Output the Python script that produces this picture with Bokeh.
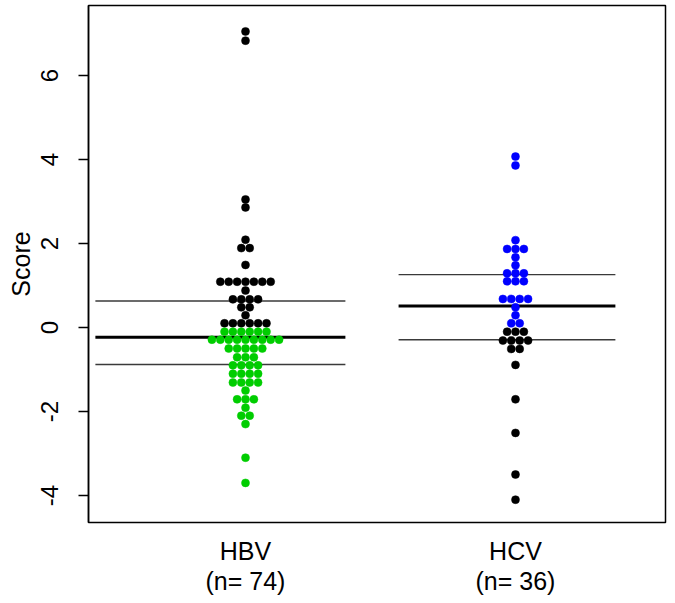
from bokeh.plotting import figure
from bokeh.models import Range1d, FixedTicker, ColumnDataSource
from bokeh.embed import file_html
from bokeh.resources import INLINE

# ---- data ----
groups = ["HBV", "HCV"]
group_n = [74, 36]
hbv_scores = [7.05, 6.83, 3.05, 2.86, 2.09, 1.89, 1.89, 1.49,
              1.09, 1.09, 1.09, 1.09, 1.09, 1.09, 1.09, 0.88,
              0.67, 0.67, 0.67, 0.67, 0.48, 0.48, 0.29,
              0.10, 0.10, 0.10, 0.10, 0.10, 0.10,
              -0.10, -0.10, -0.10, -0.10, -0.10, -0.10,
              -0.29, -0.29, -0.29, -0.29, -0.29, -0.29, -0.29, -0.29, -0.29,
              -0.50, -0.50, -0.50, -0.50, -0.50,
              -0.71, -0.71, -0.71,
              -0.90, -0.90, -0.90, -0.90,
              -1.10, -1.10, -1.10, -1.10,
              -1.31, -1.31, -1.31, -1.31,
              -1.50, -1.71, -1.71, -1.71, -1.91, -2.10, -2.10, -2.30,
              -3.10, -3.70]
hcv_scores = [4.07, 3.86, 2.08, 1.87, 1.87, 1.87, 1.67, 1.48,
              1.29, 1.29, 1.29, 1.10, 1.10, 1.10,
              0.68, 0.68, 0.68, 0.68, 0.48, 0.29, 0.10, 0.10,
              -0.10, -0.10, -0.10, -0.31, -0.31, -0.31, -0.31,
              -0.51, -0.51, -0.89, -1.71, -2.51, -3.50, -4.10]
# summary lines (lower quartile, median, upper quartile)
hbv_lines = [-0.88, -0.23, 0.63]
hcv_lines = [-0.29, 0.51, 1.26]
y_ticks = [-4, -2, 0, 2, 4, 6]

FONT = "Liberation Sans"
DX = 0.0311  # horizontal spacing between neighbouring dots (data units)


def swarm(center, values):
    xs, ys = [], []
    i = 0
    while i < len(values):
        j = i
        while j < len(values) and values[j] == values[i]:
            j += 1
        n = j - i
        for k in range(n):
            xs.append(center + (k - (n - 1) / 2) * DX)
            ys.append(values[i])
        i = j
    return xs, ys


p = figure(width=675, height=603,
           x_range=Range1d(0.4185, 2.5556), y_range=Range1d(-4.643, 7.667),
           output_backend="svg", toolbar_location=None,
           min_border_left=88, min_border_right=10,
           min_border_top=5, min_border_bottom=81)
p.grid.visible = False
p.outline_line_color = "black"
p.outline_line_width = 1.5
p.background_fill_color = "white"
p.border_fill_color = "white"

# summary lines
seg_x = [(0.444, 1.370), (1.567, 2.370)]
for (x0, x1), lines in zip(seg_x, [hbv_lines, hcv_lines]):
    for k, yv in enumerate(lines):
        thick = (k == 1)
        p.segment(x0=[x0], x1=[x1], y0=[yv], y1=[yv],
                  line_color="black" if thick else "#3a3a3a",
                  line_width=3 if thick else 1.4)

# points
hx, hy = swarm(1, hbv_scores)
hc = ["#00CD00" if v < 0 else "black" for v in hy]
cx, cy = swarm(2, hcv_scores)
cc = ["#0000FF" if v > 0 else "black" for v in cy]
src = ColumnDataSource(dict(x=hx + cx, y=hy + cy, c=hc + cc))
p.scatter("x", "y", source=src, size=8, fill_color="c", line_color="c",
          line_width=0.5)

# y axis
ya = p.yaxis[0]
ya.ticker = FixedTicker(ticks=y_ticks)
ya.major_label_overrides = {t: str(t) for t in y_ticks}
ya.minor_tick_line_color = None
ya.major_tick_in = 0
ya.major_tick_out = 10
ya.major_tick_line_width = 1.3
ya.axis_line_width = 1.5
ya.major_label_orientation = "vertical"
ya.major_label_standoff = 20
ya.major_label_text_font = FONT
ya.major_label_text_font_size = "24px"
ya.major_label_text_color = "black"
ya.axis_label = "Score"
ya.axis_label_text_font = FONT
ya.axis_label_text_font_size = "25px"
ya.axis_label_text_font_style = "normal"
ya.axis_label_text_color = "black"
ya.axis_label_standoff = 4

# x axis
xa = p.xaxis[0]
xa.ticker = FixedTicker(ticks=[1, 2])
xa.major_label_overrides = {i + 1: f"{g}\n(n= {n})" for i, (g, n) in enumerate(zip(groups, group_n))}
xa.minor_tick_line_color = None
xa.major_tick_in = 0
xa.major_tick_out = 0
xa.axis_line_color = None
xa.major_label_standoff = 14
xa.major_label_text_font = FONT
xa.major_label_text_font_size = "25px"
xa.major_label_text_line_height = 1.1
xa.major_label_text_color = "black"

open("out.html", "w").write(file_html(p, INLINE))
